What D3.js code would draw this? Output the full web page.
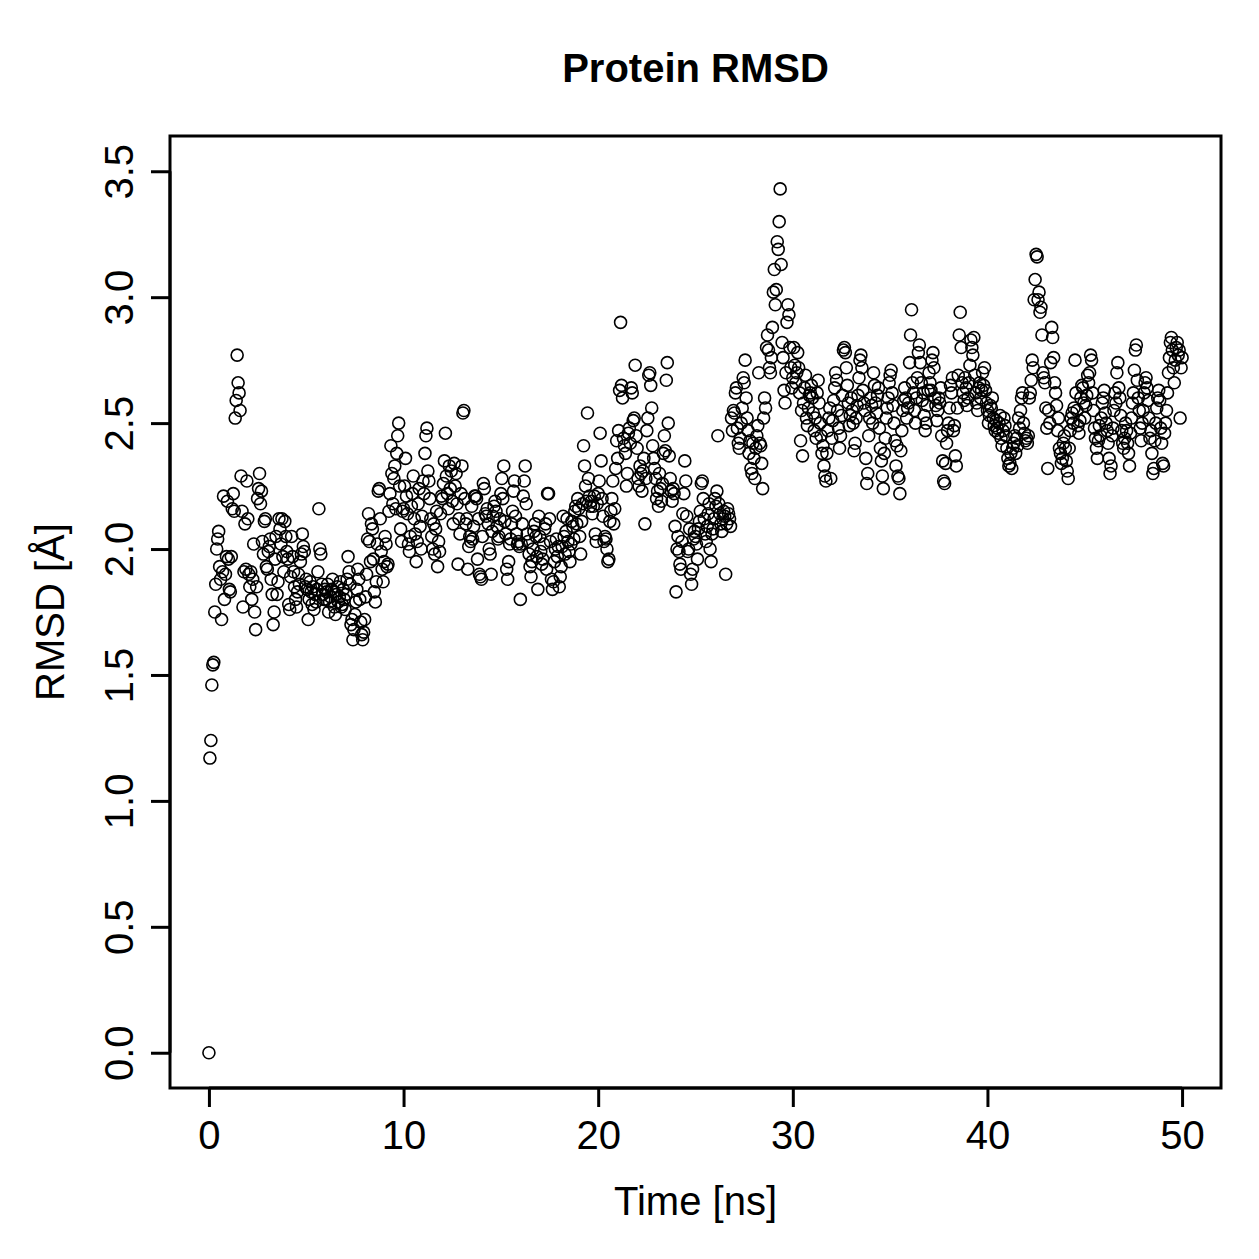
<!DOCTYPE html>
<html>
<head>
<meta charset="utf-8">
<script src="https://cdn.jsdelivr.net/npm/d3@7"></script>
<style>
  html, body { margin: 0; padding: 0; background: #fff; }
  svg { display: block; font-family: "Liberation Sans", Arial, Helvetica, sans-serif; }
</style>
</head>
<body>
<svg id="chart" width="1259" height="1259"></svg>
<script>
// ---- data -----------------------------------------------------------
const title = "Protein RMSD";
const xLabel = "Time [ns]";
const yLabel = "RMSD [Å]";
const timeStep = 0.05; // ns between frames
const xTicks = [0, 10, 20, 30, 40, 50];
const yTicks = [0.0, 0.5, 1.0, 1.5, 2.0, 2.5, 3.0, 3.5];
const yTickLabels = ["0.0", "0.5", "1.0", "1.5", "2.0", "2.5", "3.0", "3.5"];

// RMSD per frame (Å), 20 frames per ns
const rmsd = [
  // 0 ns
  0.00,1.17,1.24,1.46,1.54,1.55,1.75,1.86,2.00,2.04,2.07,1.93,1.88,1.72,1.91,2.21,1.80,1.90,1.97,2.19,
  // 1
  1.96,1.84,1.83,1.97,2.16,2.22,2.15,2.52,2.59,2.77,2.66,2.62,2.55,2.29,2.15,1.77,1.91,2.10,1.92,2.27,
  // 2
  2.12,1.90,1.85,1.91,1.80,1.88,2.02,1.75,1.68,1.85,2.20,2.24,2.30,2.18,2.23,2.03,1.98,2.11,2.12,1.93,
  // 3
  1.92,1.99,2.01,2.04,1.88,1.82,1.70,1.75,1.96,2.05,1.82,1.87,2.12,2.08,2.02,2.12,1.97,1.91,2.11,2.05,
  // 4
  1.99,1.96,1.78,1.76,1.89,2.05,1.97,1.91,1.85,1.80,1.77,1.83,1.90,1.86,1.95,1.98,2.06,2.01,1.99,1.85,
  // 5
  1.88,1.84,1.72,1.80,1.87,1.83,1.78,1.85,1.76,1.82,1.79,1.84,1.91,2.16,2.00,1.98,1.86,1.82,1.80,1.84,
  // 6
  1.80,1.83,1.86,1.75,1.79,1.81,1.84,1.88,1.83,1.77,1.74,1.82,1.85,1.79,1.81,1.87,1.77,1.78,1.84,1.80,
  // 7
  1.76,1.82,1.88,1.97,1.91,1.86,1.70,1.72,1.64,1.68,1.74,1.79,1.84,1.92,1.88,1.80,1.71,1.66,1.64,1.67,
  // 8
  1.72,1.81,1.90,2.04,2.14,2.03,1.95,2.10,2.08,1.96,1.83,1.79,1.87,2.02,2.23,2.24,2.12,1.99,1.92,1.87,
  // 9
  1.95,2.05,2.02,1.93,1.94,2.15,2.22,2.41,2.30,2.18,2.28,2.33,2.16,2.38,2.45,2.50,2.25,2.08,2.03,2.15,
  // 10
  2.16,2.25,2.36,2.21,2.14,2.02,1.99,2.05,2.17,2.22,2.29,2.12,2.06,1.95,2.03,2.18,2.24,2.09,2.00,2.13,
  // 11
  2.27,2.22,2.38,2.45,2.48,2.31,2.27,2.20,2.12,2.05,2.00,2.10,1.98,2.08,2.15,1.93,2.03,1.99,2.14,2.21,
  // 12
  2.20,2.26,2.35,2.46,2.29,2.22,2.16,2.33,2.24,2.31,2.19,2.10,2.34,2.25,2.30,2.18,1.94,2.12,2.06,2.22,
  // 13
  2.33,2.54,2.55,2.20,2.10,2.12,1.92,2.01,2.05,2.03,2.17,2.04,2.09,2.21,2.21,2.20,1.96,2.12,1.90,1.89,
  // 14
  1.88,2.05,2.26,2.24,2.14,2.13,2.16,2.10,2.00,1.98,1.90,2.07,2.13,2.17,2.19,2.15,2.09,2.04,2.05,2.12,
  // 15
  2.22,2.28,2.20,2.33,2.11,2.06,1.92,1.88,1.95,2.02,2.04,2.10,2.15,2.23,2.27,2.13,2.06,2.02,2.03,2.01,
  // 16
  1.80,2.02,2.10,2.21,2.27,2.33,2.18,2.06,2.03,1.98,1.93,1.89,1.95,2.00,2.07,2.10,2.05,1.97,1.84,2.13,
  // 17
  2.05,1.99,1.94,1.96,2.02,2.08,2.10,1.92,2.22,2.22,2.12,2.03,1.88,1.84,1.87,1.95,2.00,2.04,1.97,2.01,
  // 18
  1.85,1.89,1.93,2.01,2.13,2.05,1.98,2.07,2.12,2.03,1.99,1.95,2.02,2.11,2.09,2.04,2.15,2.17,2.10,2.20,
  // 19
  2.16,2.05,1.98,2.11,2.18,2.41,2.33,2.25,2.19,2.54,2.28,2.21,2.17,2.19,2.14,2.17,2.21,2.06,2.03,2.18,
  // 20
  2.22,2.27,2.46,2.35,2.20,2.13,2.03,2.05,2.04,2.00,1.95,1.96,2.11,2.15,2.20,2.27,2.10,2.16,2.32,2.43,
  // 21
  2.36,2.47,2.63,2.90,2.65,2.60,2.44,2.41,2.38,2.25,2.30,2.46,2.48,2.42,2.64,2.62,2.51,2.52,2.73,2.45,
  // 22
  2.40,2.28,2.25,2.33,2.30,2.23,2.31,2.36,2.10,2.28,2.47,2.52,2.69,2.70,2.65,2.56,2.41,2.36,2.32,2.28,
  // 23
  2.20,2.23,2.17,2.30,2.24,2.19,2.26,2.38,2.45,2.39,2.67,2.74,2.50,2.37,2.28,2.23,2.19,2.24,2.22,2.09,
  // 24
  1.83,2.00,2.05,1.99,1.94,1.92,2.03,2.14,2.22,2.35,2.27,2.13,1.99,2.00,2.08,1.90,1.86,1.92,2.04,2.07,
  // 25
  2.05,2.02,1.96,2.08,2.11,2.15,2.26,2.27,2.20,2.12,2.06,2.03,2.09,2.14,2.18,2.00,1.95,2.06,2.08,2.12,
  // 26
  2.20,2.17,2.23,2.45,2.18,2.14,2.10,2.07,2.12,2.15,2.13,1.90,2.10,2.16,2.14,2.12,2.09,2.52,2.47,2.55,
  // 27
  2.54,2.62,2.64,2.48,2.42,2.40,2.44,2.50,2.56,2.68,2.66,2.75,2.60,2.52,2.47,2.38,2.43,2.32,2.30,2.42,
  // 28
  2.36,2.28,2.40,2.45,2.49,2.70,2.42,2.41,2.34,2.24,2.52,2.60,2.56,2.80,2.85,2.79,2.72,2.70,2.76,2.88,
  // 29
  3.02,3.11,2.97,3.03,3.22,3.19,3.30,3.43,3.13,2.82,2.76,2.63,2.58,2.70,2.90,2.97,2.93,2.80,2.72,2.64,
  // 30
  2.68,2.80,2.73,2.66,2.70,2.78,2.72,2.62,2.43,2.55,2.37,2.58,2.64,2.69,2.52,2.49,2.56,2.61,2.62,2.65,
  // 31
  2.60,2.54,2.47,2.52,2.44,2.62,2.67,2.58,2.50,2.45,2.38,2.41,2.33,2.29,2.27,2.38,2.47,2.52,2.56,2.28,
  // 32
  2.44,2.51,2.59,2.64,2.70,2.67,2.55,2.48,2.40,2.45,2.53,2.61,2.79,2.80,2.78,2.72,2.65,2.58,2.49,2.53,
  // 33
  2.60,2.55,2.50,2.39,2.42,2.52,2.57,2.61,2.68,2.75,2.77,2.72,2.63,2.58,2.55,2.36,2.26,2.30,2.45,2.52,
  // 34
  2.60,2.57,2.50,2.70,2.65,2.58,2.54,2.61,2.64,2.48,2.40,2.35,2.29,2.24,2.38,2.44,2.52,2.56,2.60,2.66,
  // 35
  2.69,2.71,2.62,2.57,2.50,2.43,2.33,2.41,2.29,2.28,2.22,2.39,2.47,2.55,2.59,2.64,2.60,2.52,2.56,2.58,
  // 36
  2.74,2.85,2.95,2.66,2.62,2.55,2.50,2.60,2.68,2.78,2.81,2.74,2.66,2.59,2.62,2.53,2.47,2.50,2.57,2.63,
  // 37
  2.70,2.66,2.63,2.75,2.78,2.72,2.60,2.57,2.51,2.55,2.60,2.58,2.64,2.45,2.35,2.27,2.26,2.34,2.42,2.47,
  // 38
  2.50,2.56,2.65,2.62,2.68,2.47,2.49,2.37,2.33,2.56,2.69,2.85,2.94,2.80,2.66,2.62,2.59,2.68,2.64,2.57,
  // 39
  2.60,2.66,2.73,2.83,2.80,2.77,2.84,2.69,2.62,2.58,2.55,2.64,2.66,2.60,2.63,2.70,2.65,2.72,2.63,2.58,
  // 40
  2.55,2.50,2.53,2.57,2.56,2.60,2.52,2.49,2.47,2.51,2.48,2.46,2.50,2.53,2.44,2.41,2.47,2.52,2.49,2.45,
  // 41
  2.40,2.36,2.33,2.34,2.38,2.32,2.40,2.42,2.45,2.38,2.44,2.41,2.52,2.48,2.55,2.60,2.62,2.50,2.46,2.43,
  // 42
  2.44,2.42,2.45,2.60,2.62,2.67,2.75,2.72,2.99,3.07,3.17,3.16,2.99,3.02,2.94,2.96,2.85,2.70,2.68,2.66,
  // 43
  2.56,2.48,2.32,2.55,2.50,2.74,2.88,2.84,2.76,2.66,2.62,2.57,2.47,2.52,2.40,2.38,2.34,2.36,2.42,2.45,
  // 44
  2.40,2.35,2.31,2.28,2.40,2.47,2.52,2.54,2.50,2.56,2.75,2.62,2.55,2.49,2.46,2.51,2.60,2.65,2.64,2.58,
  // 45
  2.52,2.57,2.61,2.69,2.66,2.70,2.77,2.75,2.62,2.55,2.48,2.44,2.40,2.36,2.43,2.49,2.45,2.52,2.58,2.60,
  // 46
  2.63,2.54,2.50,2.47,2.42,2.36,2.30,2.33,2.45,2.48,2.55,2.62,2.58,2.70,2.74,2.64,2.60,2.53,2.47,2.42,
  // 47
  2.40,2.44,2.50,2.47,2.42,2.38,2.33,2.46,2.52,2.58,2.62,2.71,2.79,2.81,2.67,2.60,2.55,2.48,2.43,2.50,
  // 48
  2.55,2.62,2.66,2.68,2.64,2.59,2.52,2.44,2.47,2.38,2.30,2.32,2.43,2.50,2.56,2.60,2.63,2.59,2.48,2.42,
  // 49
  2.34,2.33,2.46,2.50,2.55,2.62,2.70,2.76,2.82,2.84,2.79,2.72,2.66,2.75,2.80,2.82,2.77,2.79,2.52,2.72,
  // 50
  2.76
];

// ---- layout ---------------------------------------------------------
const W = 1259, H = 1259;
const plot = { left: 170, right: 1221, top: 136, bottom: 1088 };
const svg = d3.select("#chart");

const points = rmsd.map((v, i) => ({ t: i * timeStep, v }));

// R-style 4% padding of axis ranges
const xDom = [0, 50], yDom = [0, 3.5];
const xPad = (xDom[1] - xDom[0]) * 0.04, yPad = (yDom[1] - yDom[0]) * 0.04;
const x = d3.scaleLinear().domain([xDom[0] - xPad, xDom[1] + xPad]).range([plot.left, plot.right]);
const y = d3.scaleLinear().domain([yDom[0] - yPad, yDom[1] + yPad]).range([plot.bottom, plot.top]);

svg.append("rect").attr("width", W).attr("height", H).attr("fill", "#fff");

// points
svg.append("g")
  .selectAll("circle")
  .data(points)
  .join("circle")
  .attr("cx", d => x(d.t))
  .attr("cy", d => y(d.v))
  .attr("r", 6)
  .attr("fill", "none")
  .attr("stroke", "#000")
  .attr("stroke-width", 1.6);

// box
svg.append("rect")
  .attr("x", plot.left).attr("y", plot.top)
  .attr("width", plot.right - plot.left).attr("height", plot.bottom - plot.top)
  .attr("fill", "none").attr("stroke", "#000").attr("stroke-width", 3);

// x axis
const xAxis = svg.append("g")
  .attr("transform", `translate(0,${plot.bottom})`)
  .call(d3.axisBottom(x).tickValues(xTicks).tickSize(19).tickSizeOuter(0).tickFormat(d3.format("d")));
xAxis.select(".domain").remove();
xAxis.append("line")
  .attr("x1", x(xTicks[0])).attr("x2", x(xTicks[xTicks.length - 1]))
  .attr("stroke", "#000").attr("stroke-width", 3);
xAxis.selectAll(".tick line").attr("stroke", "#000").attr("stroke-width", 3);
xAxis.selectAll(".tick text")
  .attr("y", 61).attr("dy", null)
  .attr("fill", "#000")
  .style("font-size", "40px")
  .style("font-family", "'Liberation Sans', Arial, sans-serif");

// y axis
const yAxis = svg.append("g")
  .attr("transform", `translate(${plot.left},0)`)
  .call(d3.axisLeft(y).tickValues(yTicks).tickSize(19).tickSizeOuter(0).tickFormat((d, i) => yTickLabels[i]));
yAxis.select(".domain").remove();
yAxis.append("line")
  .attr("y1", y(yTicks[0])).attr("y2", y(yTicks[yTicks.length - 1]))
  .attr("stroke", "#000").attr("stroke-width", 3);
yAxis.selectAll(".tick line").attr("stroke", "#000").attr("stroke-width", 3);
yAxis.selectAll(".tick text")
  .attr("x", null).attr("dy", null)
  .attr("transform", "translate(-37,0) rotate(-90)")
  .attr("text-anchor", "middle")
  .attr("fill", "#000")
  .style("font-size", "40px")
  .style("font-family", "'Liberation Sans', Arial, sans-serif");

// titles
svg.append("text")
  .attr("x", (plot.left + plot.right) / 2).attr("y", 82)
  .attr("text-anchor", "middle")
  .style("font-size", "40px").style("font-weight", "bold")
  .text(title);

svg.append("text")
  .attr("x", (plot.left + plot.right) / 2).attr("y", 1215)
  .attr("text-anchor", "middle")
  .style("font-size", "40px")
  .text(xLabel);

svg.append("text")
  .attr("transform", `translate(64,${(plot.top + plot.bottom) / 2}) rotate(-90)`)
  .attr("text-anchor", "middle")
  .style("font-size", "40px")
  .text(yLabel);
</script>
</body>
</html>
